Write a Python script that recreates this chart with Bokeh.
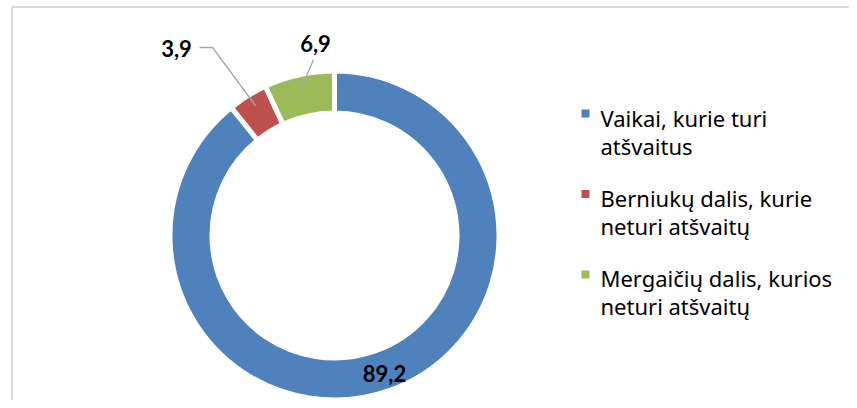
import math
from bokeh.plotting import figure
from bokeh.models import Range1d, ColumnDataSource
from bokeh.core.properties import value
from bokeh.embed import file_html
from bokeh.resources import INLINE

# ---- data ----
categories = ["Vaikai, kurie turi atšvaitus",
              "Berniukų dalis, kurie neturi atšvaitų",
              "Mergaičių dalis, kurios neturi atšvaitų"]
legend_lines = [["Vaikai, kurie turi", "atšvaitus"],
                ["Berniukų dalis, kurie", "neturi atšvaitų"],
                ["Mergaičių dalis, kurios", "neturi atšvaitų"]]
values = [89.2, 3.9, 6.9]
value_labels = ["89,2", "3,9", "6,9"]
colors = ["#4F81BD", "#C0504D", "#9BBB59"]

W, H = 849, 400
p = figure(width=W, height=H, output_backend="svg", toolbar_location=None,
           x_range=Range1d(0, W), y_range=Range1d(-H, 0),
           min_border=0, outline_line_color=None)
p.axis.visible = False
p.grid.visible = False
p.background_fill_color = "white"
p.border_fill_color = "white"

LBL_FONT = "Lato"
LEG_FONT = "Noto Sans"
DY = 7  # text placement compensation

# chart border (light gray), extends past the right/bottom edge
p.line([11.5, 11.5, 900], [-500, -6.5, -6.5], line_color="#D9D9D9", line_width=2)

# ---- doughnut ----
cx, cy = 334, -235
r_out, r_in = 162, 125
gap = 5
total = sum(values)
starts, ends = [], []
cum = 0.0
for v in values:
    a0 = math.pi / 2 - 2 * math.pi * cum / total
    cum += v
    a1 = math.pi / 2 - 2 * math.pi * cum / total
    starts.append(a0)
    ends.append(a1)

src = ColumnDataSource(dict(start=starts, end=ends, color=colors))
p.annular_wedge(x=cx, y=cy, inner_radius=r_in - gap / 2, outer_radius=r_out + gap / 2,
                start_angle="start", end_angle="end", direction="clock",
                fill_color="color", line_color="white", line_width=gap, source=src)

# ---- data labels ----
lbl_font = dict(text_font=value(LBL_FONT), text_font_style="bold",
                text_font_size="22px", text_color="black",
                text_baseline="alphabetic")
p.text(x=[384], y=[-380 + DY], text=[value_labels[0]], text_align="center", **lbl_font)
p.text(x=[176], y=[-55 + DY], text=[value_labels[1]], text_align="center", **lbl_font)
p.text(x=[315], y=[-50 + DY], text=[value_labels[2]], text_align="center", **lbl_font)
p.line([199, 212, 255], [-47, -47, -105], line_color="#A6A6A6", line_width=1.3)
p.line([313, 301], [-59, -87], line_color="#A6A6A6", line_width=1.3)

# ---- legend ----
sq_y = [-113, -193.5, -274]
base_y = [(-124, -152), (-204, -232), (-284, -312)]
p.rect(x=[585] * 3, y=sq_y, width=8, height=8, fill_color=colors, line_color=None)
for lines, (b1, b2) in zip(legend_lines, base_y):
    p.text(x=[600, 600], y=[b1 + DY, b2 + DY], text=lines, text_font=value(LEG_FONT),
           text_font_size="22px", text_color="black",
           text_baseline="alphabetic", text_align="left")

open("out.html", "w").write(file_html(p, INLINE))
